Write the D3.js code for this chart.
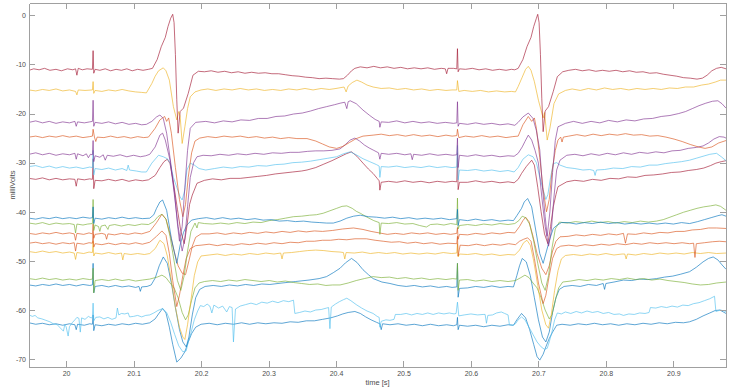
<!DOCTYPE html>
<html lang="en">
<head>
	<meta charset="UTF-8">
	<title>milliVolts</title>
	<script src="https://cdnjs.cloudflare.com/ajax/libs/d3/7.8.5/d3.min.js"></script>
	<style>
		*{
			padding: 0;
			margin: 0;
		}
		body{
			background-color: #fff;
		}
		.axis text{
			font-family: "Liberation Sans", Arial, sans-serif;
			font-size: 7px;
			fill: #4d4d4d;
		}
		.axis path,.axis line{
			stroke: #a0a0a0;
			stroke-width: 1;
			shape-rendering: crispEdges;
		}
		.label{
			font-family: "Liberation Sans", Arial, sans-serif;
			font-size: 7.5px;
			fill: #4d4d4d;
		}
		.trace{
			fill: none;
			stroke-width: 0.85;
			stroke-linejoin: round;
			stroke-opacity: 0.75;
		}
	</style>
</head>
<body>
	<div id="container"></div>
</body>
<script>
	// tick labels
	var xTicks=[20,20.1,20.2,20.3,20.4,20.5,20.6,20.7,20.8,20.9]
	var yTicks=[-70,-60,-50,-40,-30,-20,-10,0]
	var xRange=[19.945,20.978]
	var yRange=[-71.6,2.5]

	// channels, top to bottom: [time s, milliVolts]
	var ch01=[[19.945,-11.2],[19.952,-10.9],[19.960,-11.1],[19.968,-10.8],[19.976,-11.2],[19.985,-11.0],[19.993,-11.3],[20.002,-10.9],[20.010,-11.1],[20.014,-10.9],[20.016,-12.2],[20.018,-10.8],[20.024,-11.1],[20.031,-10.9],[20.039,-11.0],[20.040,-7.2],[20.041,-11.8],[20.043,-11.0],[20.050,-11.2],[20.058,-10.9],[20.066,-11.3],[20.074,-11.0],[20.082,-11.2],[20.090,-10.9],[20.098,-11.3],[20.106,-11.0],[20.114,-11.2],[20.122,-11.0],[20.128,-10.8],[20.135,-9.0],[20.141,-6.4],[20.147,-4.5],[20.151,-2.3],[20.155,-0.6],[20.158,0.2],[20.160,-1.5],[20.162,-8.0],[20.164,-17.2],[20.166,-24.0],[20.169,-19.6],[20.174,-18.9],[20.181,-15.9],[20.188,-12.2],[20.196,-11.4],[20.205,-11.5],[20.215,-11.3],[20.225,-11.6],[20.235,-11.4],[20.245,-11.7],[20.255,-11.5],[20.265,-11.8],[20.275,-11.6],[20.285,-11.8],[20.295,-11.7],[20.305,-11.9],[20.315,-11.9],[20.325,-12.1],[20.335,-12.3],[20.345,-12.4],[20.355,-12.6],[20.365,-12.7],[20.375,-12.9],[20.385,-12.8],[20.395,-12.9],[20.405,-13.0],[20.411,-12.9],[20.417,-12.2],[20.423,-11.3],[20.428,-10.8],[20.436,-10.5],[20.446,-10.7],[20.456,-10.4],[20.466,-10.7],[20.476,-10.5],[20.486,-10.8],[20.496,-10.6],[20.506,-10.9],[20.516,-10.7],[20.526,-10.9],[20.536,-10.7],[20.546,-11.0],[20.556,-10.8],[20.562,-10.9],[20.564,-11.9],[20.566,-10.8],[20.574,-10.8],[20.579,-10.9],[20.580,-6.8],[20.581,-11.5],[20.583,-10.9],[20.592,-11.0],[20.602,-10.8],[20.612,-11.1],[20.622,-10.9],[20.632,-11.2],[20.642,-11.0],[20.652,-11.2],[20.660,-11.0],[20.665,-11.1],[20.670,-10.8],[20.677,-9.0],[20.683,-6.4],[20.689,-4.5],[20.693,-2.3],[20.697,-0.6],[20.699,0.2],[20.701,-1.5],[20.703,-8.0],[20.705,-17.0],[20.707,-23.7],[20.710,-19.5],[20.715,-18.6],[20.722,-15.5],[20.728,-12.5],[20.736,-11.5],[20.745,-11.2],[20.755,-11.0],[20.765,-11.3],[20.775,-11.1],[20.785,-11.4],[20.795,-11.2],[20.805,-11.4],[20.815,-11.2],[20.825,-11.5],[20.835,-11.3],[20.845,-11.6],[20.855,-11.5],[20.865,-11.8],[20.875,-11.7],[20.885,-12.0],[20.895,-12.2],[20.905,-12.4],[20.915,-12.7],[20.925,-12.8],[20.935,-13.0],[20.943,-12.8],[20.950,-12.2],[20.957,-11.3],[20.964,-10.8],[20.971,-10.6],[20.978,-10.9]]

	var ch02=[[19.945,-15.2],[19.955,-15.4],[19.965,-15.1],[19.975,-15.3],[19.985,-15.0],[19.995,-15.4],[20.005,-15.2],[20.014,-15.5],[20.016,-16.2],[20.018,-15.2],[20.028,-15.3],[20.039,-15.2],[20.040,-13.5],[20.041,-15.9],[20.043,-15.3],[20.053,-15.5],[20.063,-15.2],[20.073,-15.4],[20.083,-15.1],[20.093,-15.4],[20.103,-15.6],[20.112,-15.7],[20.119,-15.8],[20.127,-13.9],[20.132,-12.4],[20.137,-11.3],[20.144,-10.7],[20.148,-11.3],[20.153,-13.2],[20.159,-18.6],[20.164,-21.3],[20.167,-19.6],[20.169,-20.5],[20.172,-26.1],[20.176,-22.7],[20.180,-19.0],[20.184,-16.6],[20.191,-15.6],[20.200,-15.2],[20.210,-15.0],[20.222,-15.3],[20.234,-15.0],[20.246,-15.2],[20.258,-14.9],[20.270,-15.2],[20.282,-15.0],[20.294,-15.3],[20.306,-15.1],[20.318,-15.3],[20.330,-15.0],[20.342,-15.2],[20.354,-14.9],[20.366,-15.2],[20.378,-14.9],[20.390,-15.1],[20.400,-14.9],[20.412,-14.6],[20.415,-15.6],[20.418,-14.4],[20.424,-13.7],[20.431,-13.2],[20.438,-13.6],[20.446,-14.2],[20.455,-14.6],[20.467,-14.9],[20.479,-14.8],[20.491,-15.1],[20.503,-14.9],[20.515,-15.2],[20.527,-15.0],[20.539,-15.3],[20.551,-15.1],[20.563,-15.3],[20.572,-15.2],[20.579,-15.2],[20.580,-13.3],[20.582,-15.5],[20.590,-15.3],[20.602,-15.5],[20.614,-15.3],[20.626,-15.6],[20.638,-15.4],[20.650,-15.6],[20.660,-15.5],[20.666,-15.6],[20.670,-14.5],[20.676,-12.6],[20.681,-11.0],[20.685,-10.4],[20.689,-11.2],[20.694,-13.5],[20.700,-17.3],[20.707,-20.9],[20.709,-19.8],[20.711,-22.5],[20.713,-25.4],[20.717,-23.0],[20.723,-18.0],[20.730,-16.0],[20.740,-15.3],[20.750,-15.0],[20.762,-15.3],[20.774,-14.9],[20.786,-15.2],[20.798,-14.8],[20.810,-15.1],[20.822,-14.9],[20.834,-15.2],[20.846,-14.9],[20.858,-15.1],[20.870,-14.9],[20.882,-15.1],[20.894,-14.8],[20.906,-14.9],[20.918,-14.6],[20.930,-14.6],[20.942,-14.2],[20.952,-14.0],[20.962,-13.6],[20.970,-13.2],[20.978,-13.2]]

	var ch03=[[19.945,-21.8],[19.955,-21.5],[19.965,-21.9],[19.975,-21.6],[19.985,-22.0],[19.995,-21.7],[20.005,-21.9],[20.013,-21.6],[20.015,-22.6],[20.017,-21.7],[20.027,-21.9],[20.035,-21.7],[20.039,-21.6],[20.040,-17.3],[20.041,-22.6],[20.043,-21.8],[20.053,-22.0],[20.063,-21.7],[20.073,-22.1],[20.083,-21.8],[20.093,-22.2],[20.103,-22.0],[20.112,-22.3],[20.119,-22.2],[20.127,-21.6],[20.134,-20.7],[20.139,-20.3],[20.144,-21.0],[20.149,-24.0],[20.155,-30.0],[20.161,-36.5],[20.165,-42.5],[20.168,-46.0],[20.172,-43.0],[20.176,-35.0],[20.180,-27.5],[20.184,-23.0],[20.192,-21.8],[20.207,-21.6],[20.220,-21.9],[20.233,-21.5],[20.246,-21.7],[20.259,-21.3],[20.272,-21.4],[20.285,-21.0],[20.298,-21.0],[20.311,-20.6],[20.324,-20.5],[20.337,-20.1],[20.350,-19.9],[20.362,-19.5],[20.374,-19.0],[20.386,-18.6],[20.398,-18.2],[20.406,-17.9],[20.413,-17.7],[20.416,-19.0],[20.418,-17.6],[20.421,-17.4],[20.430,-18.0],[20.440,-19.3],[20.450,-20.4],[20.458,-21.2],[20.464,-21.6],[20.465,-22.8],[20.467,-21.7],[20.478,-21.8],[20.490,-21.5],[20.502,-21.9],[20.514,-21.6],[20.526,-21.9],[20.538,-21.7],[20.550,-22.0],[20.562,-21.8],[20.574,-22.0],[20.579,-21.9],[20.580,-17.6],[20.581,-22.6],[20.583,-22.0],[20.595,-22.2],[20.607,-21.9],[20.619,-22.2],[20.631,-22.0],[20.643,-22.3],[20.655,-22.1],[20.665,-22.4],[20.670,-21.8],[20.677,-20.7],[20.685,-19.9],[20.692,-21.0],[20.697,-23.5],[20.702,-27.4],[20.706,-35.0],[20.710,-41.0],[20.713,-45.0],[20.717,-40.0],[20.721,-32.0],[20.725,-25.5],[20.729,-22.7],[20.740,-22.0],[20.752,-21.6],[20.765,-22.0],[20.778,-21.6],[20.791,-21.9],[20.804,-21.4],[20.817,-21.7],[20.830,-21.3],[20.843,-21.5],[20.856,-21.1],[20.869,-21.0],[20.882,-20.6],[20.895,-20.4],[20.908,-20.0],[20.918,-19.6],[20.928,-19.0],[20.938,-18.4],[20.948,-17.9],[20.958,-17.5],[20.966,-17.4],[20.972,-18.0],[20.978,-18.9]]

	var ch04=[[19.945,-24.8],[19.955,-24.6],[19.965,-24.9],[19.975,-24.6],[19.985,-24.8],[19.995,-24.5],[20.005,-24.8],[20.015,-24.6],[20.025,-24.9],[20.035,-24.7],[20.039,-24.6],[20.040,-23.2],[20.042,-24.8],[20.044,-25.7],[20.046,-24.8],[20.056,-24.9],[20.066,-24.6],[20.076,-24.9],[20.086,-24.7],[20.096,-25.0],[20.106,-24.7],[20.115,-24.9],[20.122,-24.8],[20.132,-23.0],[20.139,-21.3],[20.146,-20.6],[20.149,-21.6],[20.152,-20.9],[20.156,-24.0],[20.162,-31.0],[20.168,-37.5],[20.173,-41.0],[20.177,-38.5],[20.181,-33.0],[20.186,-28.0],[20.191,-25.6],[20.198,-25.0],[20.210,-24.7],[20.222,-24.9],[20.234,-24.6],[20.246,-24.8],[20.258,-24.6],[20.270,-24.9],[20.282,-24.7],[20.294,-25.0],[20.306,-24.8],[20.318,-25.1],[20.330,-24.9],[20.342,-25.1],[20.357,-25.1],[20.370,-25.6],[20.380,-26.2],[20.390,-26.8],[20.401,-27.1],[20.410,-26.7],[20.420,-25.9],[20.430,-25.1],[20.440,-24.6],[20.455,-24.4],[20.467,-24.2],[20.479,-24.5],[20.491,-24.3],[20.503,-24.6],[20.515,-24.3],[20.527,-24.6],[20.539,-24.4],[20.551,-24.7],[20.563,-24.4],[20.572,-24.6],[20.579,-24.5],[20.580,-23.2],[20.582,-24.9],[20.592,-24.6],[20.604,-24.8],[20.616,-24.5],[20.628,-24.8],[20.640,-24.6],[20.652,-24.9],[20.662,-24.7],[20.670,-24.6],[20.677,-22.3],[20.685,-20.6],[20.690,-21.6],[20.694,-20.9],[20.697,-23.0],[20.702,-29.0],[20.707,-35.5],[20.712,-40.0],[20.716,-37.5],[20.720,-32.0],[20.725,-27.5],[20.729,-25.4],[20.733,-24.8],[20.735,-25.8],[20.737,-24.8],[20.745,-24.6],[20.757,-24.3],[20.769,-24.6],[20.781,-24.2],[20.793,-24.5],[20.805,-24.2],[20.817,-24.4],[20.829,-24.1],[20.841,-24.4],[20.853,-24.3],[20.865,-24.6],[20.877,-24.5],[20.889,-24.8],[20.901,-25.2],[20.913,-25.7],[20.925,-26.3],[20.937,-26.8],[20.947,-27.1],[20.957,-26.8],[20.967,-26.0],[20.978,-25.5]]

	var ch05=[[19.945,-28.3],[19.955,-28.0],[19.965,-28.4],[19.975,-28.1],[19.985,-28.5],[19.995,-28.2],[20.005,-28.4],[20.013,-28.1],[20.015,-29.3],[20.017,-28.2],[20.025,-28.6],[20.030,-28.2],[20.033,-29.0],[20.036,-28.3],[20.039,-28.4],[20.040,-25.5],[20.041,-29.8],[20.043,-28.6],[20.050,-28.9],[20.055,-28.4],[20.058,-29.5],[20.061,-28.5],[20.070,-28.7],[20.080,-28.4],[20.090,-28.8],[20.100,-28.5],[20.110,-28.8],[20.118,-28.6],[20.124,-28.3],[20.132,-26.8],[20.139,-24.4],[20.143,-24.0],[20.147,-25.4],[20.154,-29.5],[20.160,-36.0],[20.166,-43.0],[20.172,-48.0],[20.176,-45.5],[20.180,-39.0],[20.184,-33.0],[20.189,-30.0],[20.194,-28.8],[20.203,-28.5],[20.215,-28.6],[20.228,-28.3],[20.241,-28.5],[20.254,-28.2],[20.267,-28.4],[20.280,-28.1],[20.293,-28.3],[20.306,-28.0],[20.319,-28.1],[20.332,-27.9],[20.345,-27.9],[20.358,-27.7],[20.370,-27.6],[20.382,-27.6],[20.394,-27.5],[20.406,-27.2],[20.414,-26.3],[20.421,-25.4],[20.428,-25.0],[20.435,-25.6],[20.442,-26.4],[20.449,-27.0],[20.456,-27.5],[20.463,-28.0],[20.465,-29.3],[20.467,-28.1],[20.478,-28.3],[20.490,-28.1],[20.502,-28.4],[20.511,-28.2],[20.513,-29.4],[20.515,-28.3],[20.527,-28.5],[20.539,-28.2],[20.551,-28.5],[20.563,-28.3],[20.573,-28.5],[20.579,-28.4],[20.580,-25.0],[20.581,-31.0],[20.583,-28.5],[20.595,-28.7],[20.607,-28.4],[20.619,-28.7],[20.631,-28.5],[20.643,-28.8],[20.655,-28.6],[20.664,-28.7],[20.670,-28.1],[20.676,-26.8],[20.680,-25.7],[20.685,-24.4],[20.690,-25.4],[20.695,-27.5],[20.700,-30.1],[20.705,-37.0],[20.710,-43.0],[20.715,-47.0],[20.719,-44.0],[20.723,-37.0],[20.727,-31.5],[20.732,-29.5],[20.742,-28.5],[20.754,-28.3],[20.766,-28.6],[20.778,-28.2],[20.790,-28.5],[20.802,-28.1],[20.814,-28.4],[20.826,-28.0],[20.838,-28.3],[20.850,-27.9],[20.862,-28.1],[20.874,-27.8],[20.886,-28.0],[20.898,-27.6],[20.910,-27.5],[20.922,-27.1],[20.934,-26.9],[20.944,-26.6],[20.952,-26.0],[20.960,-25.2],[20.968,-24.7],[20.975,-24.8],[20.978,-25.0]]

	var ch06=[[19.945,-30.8],[19.955,-30.6],[19.965,-31.0],[19.975,-30.7],[19.985,-31.1],[19.995,-30.8],[20.005,-31.1],[20.015,-30.9],[20.025,-31.2],[20.035,-30.9],[20.039,-31.0],[20.040,-27.5],[20.041,-32.5],[20.043,-31.2],[20.053,-31.4],[20.063,-31.1],[20.073,-31.5],[20.083,-31.2],[20.090,-31.6],[20.092,-30.5],[20.094,-31.5],[20.104,-31.7],[20.112,-31.9],[20.119,-31.9],[20.127,-30.1],[20.137,-28.5],[20.144,-28.8],[20.150,-29.2],[20.154,-30.0],[20.159,-33.0],[20.164,-35.0],[20.169,-37.0],[20.172,-37.6],[20.176,-35.5],[20.179,-31.5],[20.184,-30.1],[20.190,-30.5],[20.197,-31.2],[20.207,-31.5],[20.220,-31.2],[20.233,-30.9],[20.246,-31.1],[20.258,-30.8],[20.271,-30.9],[20.284,-30.6],[20.297,-30.7],[20.310,-30.4],[20.323,-30.3],[20.336,-30.0],[20.349,-29.9],[20.362,-29.7],[20.375,-29.4],[20.388,-29.1],[20.401,-28.8],[20.411,-28.2],[20.421,-27.8],[20.430,-28.4],[20.440,-29.2],[20.450,-29.8],[20.460,-30.4],[20.464,-30.7],[20.465,-33.0],[20.467,-30.8],[20.478,-30.9],[20.490,-30.7],[20.502,-31.0],[20.514,-30.8],[20.526,-31.0],[20.538,-30.7],[20.550,-31.0],[20.562,-30.8],[20.572,-31.0],[20.579,-30.9],[20.580,-26.5],[20.581,-33.5],[20.583,-31.5],[20.595,-31.6],[20.607,-31.4],[20.619,-31.7],[20.631,-31.5],[20.643,-31.8],[20.655,-31.6],[20.664,-31.9],[20.670,-31.0],[20.677,-29.3],[20.685,-28.4],[20.692,-28.8],[20.697,-30.0],[20.702,-33.0],[20.707,-35.5],[20.711,-37.5],[20.714,-36.5],[20.718,-33.0],[20.722,-30.2],[20.727,-30.0],[20.732,-30.5],[20.742,-31.0],[20.754,-31.2],[20.766,-31.5],[20.776,-31.4],[20.782,-31.6],[20.784,-32.6],[20.786,-31.5],[20.798,-31.4],[20.811,-31.1],[20.825,-31.2],[20.838,-30.8],[20.851,-30.9],[20.864,-30.5],[20.876,-30.5],[20.888,-30.2],[20.900,-30.0],[20.912,-29.8],[20.924,-29.5],[20.934,-29.1],[20.944,-28.7],[20.954,-28.3],[20.964,-28.1],[20.971,-28.8],[20.978,-29.6]]

	var ch07=[[19.945,-33.2],[19.955,-33.4],[19.965,-33.1],[19.975,-33.5],[19.985,-33.2],[19.995,-33.5],[20.005,-33.3],[20.013,-33.4],[20.015,-34.8],[20.017,-33.3],[20.027,-33.5],[20.035,-33.3],[20.039,-33.4],[20.040,-29.2],[20.041,-35.3],[20.043,-33.6],[20.053,-33.7],[20.063,-33.4],[20.073,-33.7],[20.083,-33.4],[20.093,-33.8],[20.103,-33.5],[20.113,-33.7],[20.122,-33.5],[20.132,-32.6],[20.139,-31.0],[20.145,-29.8],[20.150,-29.3],[20.154,-30.2],[20.159,-34.0],[20.165,-39.5],[20.170,-44.0],[20.175,-46.5],[20.179,-43.0],[20.183,-38.5],[20.187,-36.6],[20.194,-34.2],[20.205,-33.6],[20.217,-33.3],[20.230,-33.5],[20.243,-33.2],[20.258,-33.2],[20.271,-33.0],[20.284,-32.8],[20.297,-32.6],[20.310,-32.3],[20.323,-32.1],[20.336,-31.9],[20.349,-31.7],[20.357,-31.5],[20.370,-31.0],[20.382,-30.3],[20.394,-29.6],[20.406,-28.8],[20.415,-28.2],[20.423,-27.8],[20.431,-28.7],[20.440,-30.1],[20.448,-31.3],[20.455,-32.2],[20.461,-33.2],[20.464,-33.7],[20.465,-35.6],[20.467,-34.0],[20.478,-33.8],[20.490,-34.0],[20.502,-33.7],[20.514,-34.0],[20.526,-33.8],[20.538,-34.1],[20.550,-33.8],[20.562,-34.0],[20.572,-33.8],[20.579,-33.9],[20.580,-28.0],[20.581,-35.5],[20.583,-34.0],[20.595,-34.0],[20.607,-33.7],[20.619,-34.0],[20.631,-33.8],[20.643,-34.1],[20.655,-33.9],[20.664,-34.1],[20.670,-33.4],[20.675,-32.2],[20.682,-30.8],[20.690,-29.5],[20.694,-30.5],[20.699,-35.0],[20.704,-40.0],[20.709,-44.5],[20.714,-46.5],[20.718,-43.0],[20.722,-39.0],[20.726,-36.5],[20.729,-34.9],[20.742,-33.9],[20.754,-33.6],[20.767,-33.8],[20.780,-33.4],[20.793,-33.6],[20.806,-33.2],[20.819,-33.3],[20.832,-32.9],[20.845,-33.0],[20.858,-32.6],[20.871,-32.5],[20.884,-32.3],[20.897,-32.0],[20.910,-31.9],[20.922,-31.6],[20.934,-31.4],[20.945,-31.1],[20.955,-30.6],[20.963,-30.1],[20.971,-29.8],[20.978,-29.6]]

	var ch08=[[19.945,-41.3],[19.955,-41.5],[19.965,-41.2],[19.975,-41.4],[19.985,-41.1],[19.995,-41.4],[20.005,-41.2],[20.015,-41.4],[20.025,-41.1],[20.035,-41.3],[20.039,-41.2],[20.040,-39.0],[20.041,-42.4],[20.043,-41.3],[20.053,-41.5],[20.063,-41.2],[20.073,-41.4],[20.083,-41.1],[20.093,-41.4],[20.103,-41.2],[20.113,-41.4],[20.124,-41.3],[20.130,-40.6],[20.134,-39.3],[20.139,-38.0],[20.143,-37.6],[20.149,-39.7],[20.156,-45.4],[20.164,-50.5],[20.169,-46.8],[20.174,-44.2],[20.179,-42.7],[20.186,-41.7],[20.196,-41.4],[20.208,-41.2],[20.220,-41.5],[20.232,-41.2],[20.244,-41.5],[20.256,-41.3],[20.268,-41.6],[20.280,-41.4],[20.292,-41.7],[20.304,-41.6],[20.316,-41.9],[20.328,-41.8],[20.340,-42.0],[20.352,-41.9],[20.364,-42.1],[20.376,-42.2],[20.386,-42.3],[20.396,-42.3],[20.406,-41.9],[20.416,-41.3],[20.426,-40.9],[20.436,-40.7],[20.448,-41.0],[20.460,-41.1],[20.472,-41.3],[20.484,-41.1],[20.496,-41.4],[20.508,-41.2],[20.520,-41.5],[20.532,-41.3],[20.544,-41.5],[20.556,-41.3],[20.568,-41.6],[20.579,-41.4],[20.580,-39.5],[20.581,-42.8],[20.583,-41.6],[20.595,-41.8],[20.607,-41.5],[20.619,-41.8],[20.631,-41.6],[20.643,-41.9],[20.655,-41.7],[20.663,-41.8],[20.668,-40.8],[20.675,-39.3],[20.679,-38.0],[20.684,-37.3],[20.690,-39.0],[20.697,-44.5],[20.702,-48.5],[20.707,-50.5],[20.712,-48.0],[20.717,-45.5],[20.722,-43.4],[20.727,-42.8],[20.734,-42.2],[20.744,-42.2],[20.756,-42.5],[20.768,-42.2],[20.780,-42.4],[20.792,-42.1],[20.804,-42.4],[20.816,-42.2],[20.828,-42.5],[20.840,-42.3],[20.852,-42.5],[20.864,-42.3],[20.876,-42.5],[20.888,-42.3],[20.900,-42.5],[20.912,-42.2],[20.924,-42.4],[20.936,-42.0],[20.946,-41.6],[20.956,-41.2],[20.966,-40.8],[20.972,-40.6],[20.978,-40.9]]

	var ch09=[[19.945,-42.3],[19.955,-42.5],[19.965,-42.2],[19.975,-42.6],[19.985,-42.3],[19.995,-42.5],[20.005,-42.4],[20.012,-42.6],[20.014,-44.3],[20.016,-42.5],[20.025,-42.7],[20.032,-42.5],[20.039,-42.4],[20.040,-37.5],[20.041,-43.8],[20.043,-42.7],[20.048,-43.0],[20.050,-44.0],[20.052,-42.9],[20.058,-42.7],[20.062,-43.6],[20.064,-42.8],[20.072,-42.6],[20.082,-42.9],[20.092,-42.6],[20.102,-42.8],[20.112,-42.5],[20.122,-42.6],[20.130,-42.0],[20.136,-41.0],[20.142,-40.5],[20.148,-41.5],[20.154,-45.0],[20.160,-50.0],[20.165,-54.0],[20.170,-56.0],[20.175,-53.0],[20.180,-48.0],[20.185,-44.0],[20.191,-42.3],[20.194,-43.3],[20.196,-42.2],[20.205,-42.4],[20.217,-42.5],[20.229,-42.3],[20.241,-42.5],[20.253,-42.2],[20.265,-42.4],[20.277,-42.1],[20.289,-42.2],[20.301,-41.8],[20.313,-41.6],[20.325,-41.3],[20.337,-41.0],[20.349,-40.9],[20.361,-40.7],[20.371,-40.6],[20.381,-40.3],[20.391,-39.8],[20.401,-39.3],[20.409,-38.9],[20.416,-38.8],[20.424,-39.3],[20.430,-39.9],[20.436,-40.3],[20.446,-41.1],[20.456,-41.8],[20.464,-42.2],[20.465,-44.6],[20.467,-42.3],[20.478,-42.4],[20.490,-42.2],[20.502,-42.5],[20.514,-42.4],[20.524,-42.8],[20.534,-43.1],[20.540,-42.6],[20.550,-42.5],[20.560,-42.7],[20.570,-42.4],[20.579,-42.6],[20.580,-37.2],[20.581,-43.5],[20.583,-42.8],[20.595,-42.6],[20.607,-42.8],[20.619,-42.5],[20.631,-42.7],[20.643,-42.4],[20.655,-42.6],[20.665,-42.4],[20.671,-41.8],[20.676,-40.9],[20.681,-41.2],[20.687,-42.5],[20.693,-46.0],[20.699,-50.5],[20.705,-54.5],[20.710,-56.0],[20.715,-53.0],[20.720,-47.5],[20.725,-43.5],[20.731,-42.1],[20.743,-42.3],[20.755,-42.0],[20.767,-42.2],[20.779,-41.9],[20.791,-42.2],[20.803,-42.0],[20.815,-42.3],[20.827,-42.0],[20.839,-42.2],[20.851,-41.9],[20.863,-42.1],[20.875,-41.9],[20.885,-41.6],[20.895,-41.1],[20.905,-40.6],[20.915,-40.1],[20.925,-39.7],[20.935,-39.3],[20.945,-39.0],[20.955,-38.8],[20.963,-38.6],[20.970,-38.9],[20.978,-39.7]]

	var ch10=[[19.945,-44.4],[19.955,-44.6],[19.965,-44.3],[19.975,-44.5],[19.985,-44.2],[19.995,-44.5],[20.005,-44.3],[20.012,-44.5],[20.014,-45.8],[20.016,-44.4],[20.026,-44.6],[20.034,-44.3],[20.039,-44.5],[20.040,-42.5],[20.041,-45.4],[20.043,-44.6],[20.053,-44.4],[20.058,-44.6],[20.060,-45.6],[20.062,-44.5],[20.072,-44.7],[20.082,-44.4],[20.092,-44.6],[20.102,-44.3],[20.112,-44.5],[20.124,-44.0],[20.134,-42.2],[20.142,-40.5],[20.148,-41.5],[20.154,-44.5],[20.160,-48.0],[20.166,-51.0],[20.172,-52.5],[20.177,-52.8],[20.182,-50.0],[20.187,-47.0],[20.192,-45.2],[20.200,-44.5],[20.212,-44.5],[20.224,-44.3],[20.236,-44.6],[20.248,-44.3],[20.260,-44.5],[20.272,-44.2],[20.284,-44.4],[20.296,-44.1],[20.308,-44.3],[20.320,-44.0],[20.332,-44.2],[20.344,-43.9],[20.356,-44.1],[20.368,-43.9],[20.380,-44.0],[20.395,-43.8],[20.410,-43.5],[20.426,-43.3],[20.440,-43.6],[20.452,-44.0],[20.464,-44.3],[20.476,-44.6],[20.488,-44.4],[20.500,-44.6],[20.512,-44.3],[20.524,-44.5],[20.536,-44.3],[20.548,-44.6],[20.560,-44.4],[20.570,-44.6],[20.579,-44.4],[20.580,-43.2],[20.581,-45.6],[20.583,-44.6],[20.595,-44.7],[20.607,-44.4],[20.619,-44.6],[20.631,-44.3],[20.643,-44.5],[20.655,-44.2],[20.665,-44.3],[20.672,-43.0],[20.677,-41.8],[20.681,-41.1],[20.686,-42.0],[20.692,-45.0],[20.698,-48.5],[20.705,-51.5],[20.711,-52.8],[20.716,-51.0],[20.721,-48.0],[20.726,-46.0],[20.732,-45.1],[20.744,-45.0],[20.756,-44.7],[20.768,-44.9],[20.780,-44.6],[20.792,-44.8],[20.804,-44.5],[20.816,-44.7],[20.826,-44.4],[20.829,-46.4],[20.832,-44.5],[20.844,-44.6],[20.856,-44.3],[20.868,-44.5],[20.880,-44.2],[20.892,-44.3],[20.904,-44.0],[20.916,-44.0],[20.928,-43.7],[20.940,-43.6],[20.952,-43.3],[20.964,-43.3],[20.978,-43.4]]

	var ch11=[[19.945,-46.4],[19.955,-46.2],[19.965,-46.5],[19.975,-46.3],[19.985,-46.6],[19.995,-46.3],[20.005,-46.5],[20.012,-46.3],[20.014,-48.0],[20.016,-46.4],[20.026,-46.6],[20.034,-46.3],[20.039,-46.4],[20.040,-44.5],[20.041,-47.2],[20.043,-46.5],[20.053,-46.7],[20.063,-46.4],[20.073,-46.7],[20.083,-46.4],[20.093,-46.6],[20.103,-46.3],[20.113,-46.6],[20.124,-46.2],[20.134,-45.0],[20.142,-43.9],[20.148,-44.8],[20.153,-48.5],[20.158,-54.0],[20.164,-59.3],[20.168,-57.0],[20.173,-53.0],[20.178,-49.5],[20.184,-47.5],[20.192,-46.9],[20.200,-46.8],[20.212,-46.6],[20.224,-46.9],[20.236,-46.6],[20.248,-46.8],[20.260,-46.5],[20.272,-46.7],[20.284,-46.4],[20.296,-46.6],[20.308,-46.3],[20.320,-46.5],[20.332,-46.2],[20.344,-46.3],[20.356,-46.0],[20.368,-46.0],[20.380,-45.8],[20.392,-45.8],[20.404,-45.6],[20.416,-45.7],[20.428,-45.5],[20.445,-45.5],[20.458,-45.8],[20.470,-46.0],[20.482,-46.2],[20.494,-46.1],[20.506,-46.4],[20.518,-46.2],[20.530,-46.5],[20.542,-46.3],[20.554,-46.6],[20.566,-46.4],[20.579,-46.5],[20.580,-45.0],[20.581,-49.0],[20.584,-46.8],[20.596,-46.9],[20.608,-46.6],[20.620,-46.9],[20.632,-46.6],[20.644,-46.8],[20.656,-46.5],[20.666,-46.7],[20.672,-46.0],[20.678,-45.6],[20.684,-45.3],[20.689,-46.0],[20.694,-49.5],[20.700,-54.5],[20.707,-58.7],[20.711,-57.0],[20.716,-53.0],[20.721,-49.5],[20.727,-47.5],[20.733,-47.0],[20.745,-46.8],[20.757,-47.0],[20.769,-46.7],[20.781,-46.9],[20.793,-46.6],[20.805,-46.8],[20.817,-46.5],[20.829,-46.7],[20.841,-46.4],[20.853,-46.6],[20.865,-46.3],[20.877,-46.5],[20.889,-46.3],[20.901,-46.5],[20.913,-46.3],[20.924,-46.5],[20.930,-46.4],[20.932,-49.3],[20.934,-46.5],[20.946,-46.3],[20.958,-46.1],[20.968,-46.0],[20.978,-46.1]]

	var ch12=[[19.945,-48.1],[19.955,-48.3],[19.965,-48.0],[19.975,-48.3],[19.985,-48.1],[19.995,-48.4],[20.005,-48.2],[20.012,-48.4],[20.014,-49.7],[20.016,-48.3],[20.026,-48.5],[20.034,-48.2],[20.039,-48.3],[20.040,-46.0],[20.041,-49.0],[20.043,-48.4],[20.053,-48.6],[20.063,-48.3],[20.073,-48.6],[20.082,-48.4],[20.084,-49.8],[20.086,-48.5],[20.096,-48.7],[20.106,-48.5],[20.116,-48.7],[20.124,-48.5],[20.132,-47.5],[20.139,-45.8],[20.145,-46.5],[20.150,-49.0],[20.156,-54.0],[20.162,-59.5],[20.168,-63.5],[20.173,-65.5],[20.176,-66.0],[20.180,-63.0],[20.185,-58.0],[20.190,-53.0],[20.195,-50.2],[20.200,-49.0],[20.212,-48.8],[20.224,-48.6],[20.236,-48.9],[20.248,-48.6],[20.260,-48.8],[20.272,-48.5],[20.284,-48.7],[20.296,-48.4],[20.308,-48.6],[20.318,-48.4],[20.320,-49.6],[20.322,-48.4],[20.334,-48.3],[20.346,-48.1],[20.358,-47.9],[20.370,-47.8],[20.382,-47.9],[20.394,-48.1],[20.406,-48.2],[20.411,-48.3],[20.413,-49.6],[20.415,-48.3],[20.427,-48.4],[20.439,-48.2],[20.451,-48.5],[20.463,-48.3],[20.475,-48.5],[20.487,-48.3],[20.499,-48.6],[20.511,-48.4],[20.523,-48.6],[20.535,-48.4],[20.547,-48.6],[20.559,-48.3],[20.571,-48.5],[20.579,-48.4],[20.580,-46.5],[20.581,-49.2],[20.583,-48.6],[20.595,-48.7],[20.607,-48.5],[20.619,-48.8],[20.631,-48.6],[20.643,-48.9],[20.655,-48.7],[20.665,-48.8],[20.672,-47.8],[20.678,-46.3],[20.683,-45.8],[20.688,-46.8],[20.693,-50.0],[20.699,-55.0],[20.705,-60.0],[20.711,-63.0],[20.715,-63.7],[20.719,-61.0],[20.724,-56.0],[20.729,-52.0],[20.734,-49.6],[20.740,-48.9],[20.752,-48.7],[20.764,-48.9],[20.776,-48.6],[20.788,-48.8],[20.800,-48.5],[20.812,-48.8],[20.824,-48.6],[20.828,-48.6],[20.830,-49.6],[20.832,-48.6],[20.844,-48.8],[20.856,-48.5],[20.868,-48.7],[20.880,-48.4],[20.892,-48.6],[20.904,-48.4],[20.916,-48.6],[20.928,-48.3],[20.940,-48.5],[20.952,-48.3],[20.964,-48.5],[20.978,-48.4]]

	var ch13=[[19.945,-53.6],[19.955,-53.8],[19.965,-53.5],[19.975,-53.8],[19.985,-53.6],[19.995,-53.9],[20.005,-53.7],[20.015,-53.9],[20.025,-53.6],[20.035,-53.8],[20.039,-53.7],[20.040,-51.5],[20.041,-56.5],[20.043,-54.0],[20.053,-53.8],[20.063,-54.0],[20.073,-53.7],[20.083,-54.0],[20.093,-53.8],[20.103,-54.1],[20.113,-53.9],[20.124,-53.7],[20.135,-53.3],[20.142,-52.9],[20.148,-53.4],[20.154,-54.5],[20.160,-55.5],[20.166,-57.5],[20.172,-60.5],[20.177,-62.0],[20.181,-61.0],[20.186,-58.0],[20.191,-55.5],[20.197,-54.5],[20.205,-54.2],[20.217,-54.0],[20.229,-54.2],[20.241,-53.9],[20.253,-54.1],[20.265,-53.8],[20.277,-54.0],[20.289,-54.2],[20.301,-54.0],[20.313,-54.3],[20.325,-54.1],[20.337,-54.4],[20.349,-54.6],[20.361,-54.8],[20.373,-54.7],[20.385,-55.0],[20.395,-54.9],[20.406,-54.9],[20.418,-54.5],[20.430,-54.0],[20.442,-53.6],[20.455,-53.2],[20.467,-53.4],[20.479,-53.3],[20.491,-53.6],[20.503,-53.4],[20.515,-53.7],[20.527,-53.5],[20.539,-53.8],[20.551,-53.6],[20.563,-53.8],[20.573,-53.6],[20.579,-53.7],[20.580,-50.5],[20.581,-56.0],[20.583,-53.9],[20.595,-53.8],[20.607,-54.1],[20.619,-53.9],[20.631,-54.2],[20.643,-54.0],[20.655,-54.2],[20.666,-54.0],[20.674,-53.4],[20.680,-52.9],[20.686,-53.4],[20.692,-54.5],[20.698,-55.5],[20.704,-57.5],[20.710,-60.0],[20.716,-61.8],[20.720,-61.0],[20.725,-58.0],[20.730,-55.5],[20.736,-54.3],[20.748,-54.1],[20.760,-53.8],[20.772,-54.0],[20.784,-53.7],[20.796,-53.9],[20.808,-53.6],[20.820,-53.8],[20.832,-53.5],[20.844,-53.8],[20.856,-53.6],[20.868,-53.9],[20.880,-53.7],[20.892,-54.0],[20.904,-54.2],[20.916,-54.4],[20.928,-54.7],[20.940,-54.9],[20.952,-54.8],[20.964,-54.5],[20.978,-54.3]]

	var ch14=[[19.945,-54.9],[19.955,-55.1],[19.965,-54.8],[19.975,-55.0],[19.985,-54.7],[19.995,-55.0],[20.005,-54.8],[20.015,-55.1],[20.025,-54.8],[20.035,-55.0],[20.039,-54.9],[20.040,-50.5],[20.041,-56.5],[20.043,-55.2],[20.053,-55.0],[20.063,-55.3],[20.073,-55.0],[20.083,-55.3],[20.093,-55.1],[20.103,-55.4],[20.108,-55.2],[20.110,-56.2],[20.112,-55.3],[20.120,-55.2],[20.126,-54.9],[20.132,-53.5],[20.138,-51.0],[20.144,-49.2],[20.150,-50.5],[20.156,-54.5],[20.162,-59.5],[20.168,-64.0],[20.173,-66.5],[20.178,-67.5],[20.182,-65.5],[20.187,-61.0],[20.192,-57.5],[20.198,-55.8],[20.206,-55.2],[20.218,-55.0],[20.230,-55.2],[20.242,-54.9],[20.254,-55.1],[20.266,-54.8],[20.278,-55.0],[20.290,-54.7],[20.302,-54.8],[20.320,-54.5],[20.340,-54.2],[20.360,-53.9],[20.375,-53.6],[20.386,-53.2],[20.396,-52.4],[20.406,-51.5],[20.414,-50.4],[20.423,-49.5],[20.431,-50.3],[20.440,-51.8],[20.448,-52.8],[20.455,-53.6],[20.468,-54.3],[20.480,-54.6],[20.492,-55.0],[20.504,-55.2],[20.516,-55.0],[20.528,-55.3],[20.540,-55.1],[20.552,-55.4],[20.564,-55.2],[20.572,-55.4],[20.579,-55.3],[20.580,-50.5],[20.581,-57.4],[20.583,-55.6],[20.595,-55.5],[20.607,-55.2],[20.619,-55.4],[20.631,-55.1],[20.643,-55.4],[20.655,-55.2],[20.663,-55.3],[20.668,-53.0],[20.672,-51.0],[20.676,-49.5],[20.682,-50.2],[20.688,-53.0],[20.694,-57.5],[20.700,-62.0],[20.706,-65.5],[20.711,-66.5],[20.716,-64.5],[20.721,-60.5],[20.726,-57.5],[20.731,-55.8],[20.738,-55.2],[20.750,-55.0],[20.762,-55.2],[20.774,-54.8],[20.786,-55.0],[20.796,-54.6],[20.798,-55.8],[20.800,-54.6],[20.812,-54.3],[20.826,-53.9],[20.838,-54.0],[20.850,-53.7],[20.862,-53.8],[20.875,-53.6],[20.887,-53.3],[20.899,-53.1],[20.911,-52.7],[20.924,-52.2],[20.934,-51.3],[20.944,-50.2],[20.952,-49.5],[20.959,-49.2],[20.966,-49.8],[20.972,-50.8],[20.978,-51.7]]

	var ch15=[[19.945,-61.0],[19.950,-61.3],[19.954,-61.1],[19.958,-61.6],[19.964,-61.8],[19.970,-62.1],[19.976,-62.4],[19.981,-62.8],[19.987,-63.0],[19.991,-63.6],[19.996,-64.3],[19.998,-63.0],[20.000,-63.4],[20.003,-65.3],[20.005,-63.4],[20.009,-62.6],[20.013,-62.0],[20.016,-61.5],[20.019,-61.7],[20.021,-64.5],[20.023,-61.6],[20.028,-61.9],[20.033,-61.3],[20.037,-61.6],[20.039,-61.5],[20.040,-58.6],[20.041,-62.2],[20.044,-61.5],[20.050,-61.4],[20.056,-61.8],[20.062,-61.5],[20.068,-61.9],[20.074,-61.6],[20.076,-59.6],[20.078,-61.0],[20.082,-60.7],[20.087,-60.8],[20.092,-60.6],[20.094,-61.4],[20.100,-61.3],[20.106,-61.1],[20.112,-61.4],[20.118,-61.1],[20.124,-61.0],[20.130,-60.6],[20.136,-60.1],[20.143,-59.7],[20.149,-60.5],[20.155,-62.5],[20.161,-65.0],[20.167,-67.3],[20.173,-68.5],[20.178,-68.3],[20.181,-66.5],[20.185,-64.7],[20.190,-62.0],[20.195,-60.2],[20.199,-59.1],[20.204,-59.3],[20.209,-58.8],[20.213,-59.2],[20.216,-60.6],[20.219,-59.0],[20.226,-59.6],[20.232,-59.2],[20.238,-60.4],[20.242,-59.3],[20.246,-59.5],[20.248,-66.5],[20.251,-59.8],[20.258,-59.2],[20.266,-58.9],[20.274,-58.6],[20.282,-58.9],[20.290,-58.4],[20.298,-58.6],[20.306,-58.2],[20.314,-58.5],[20.322,-58.1],[20.330,-58.3],[20.337,-58.0],[20.339,-60.7],[20.346,-60.5],[20.354,-60.2],[20.362,-60.4],[20.370,-60.0],[20.378,-59.9],[20.386,-59.6],[20.389,-59.5],[20.391,-63.8],[20.393,-59.4],[20.399,-58.8],[20.405,-58.3],[20.411,-57.9],[20.416,-57.6],[20.422,-58.1],[20.430,-58.9],[20.438,-59.6],[20.446,-60.2],[20.455,-60.7],[20.461,-61.3],[20.464,-61.5],[20.465,-63.5],[20.467,-62.3],[20.474,-62.0],[20.480,-62.1],[20.486,-61.9],[20.488,-60.9],[20.496,-60.9],[20.504,-60.7],[20.512,-61.0],[20.520,-60.7],[20.528,-60.9],[20.536,-60.6],[20.544,-60.9],[20.552,-60.6],[20.560,-60.8],[20.568,-60.6],[20.575,-60.8],[20.578,-60.7],[20.580,-58.4],[20.582,-61.2],[20.590,-61.0],[20.600,-60.8],[20.610,-61.0],[20.618,-60.9],[20.621,-60.9],[20.623,-62.7],[20.625,-61.1],[20.632,-61.0],[20.638,-60.6],[20.645,-60.4],[20.650,-60.7],[20.655,-61.0],[20.657,-63.0],[20.662,-63.1],[20.666,-62.8],[20.670,-62.0],[20.675,-61.4],[20.680,-62.0],[20.686,-63.5],[20.692,-65.0],[20.698,-66.5],[20.704,-67.5],[20.709,-68.0],[20.713,-67.8],[20.716,-66.5],[20.720,-64.5],[20.724,-62.0],[20.728,-60.6],[20.734,-60.8],[20.740,-60.4],[20.748,-60.7],[20.756,-60.3],[20.764,-60.6],[20.772,-60.2],[20.780,-60.5],[20.788,-60.3],[20.796,-60.7],[20.804,-60.5],[20.812,-60.9],[20.820,-60.8],[20.826,-61.1],[20.834,-60.8],[20.842,-60.9],[20.850,-60.6],[20.858,-60.7],[20.864,-60.5],[20.866,-59.5],[20.874,-59.6],[20.882,-59.3],[20.890,-59.5],[20.898,-59.2],[20.906,-59.4],[20.914,-59.0],[20.922,-59.1],[20.930,-58.7],[20.938,-58.5],[20.946,-58.1],[20.954,-57.7],[20.961,-57.2],[20.963,-60.3],[20.970,-60.0],[20.978,-60.3]]

	var ch16=[[19.945,-62.6],[19.955,-62.9],[19.965,-62.7],[19.975,-63.0],[19.985,-62.8],[19.995,-63.1],[20.005,-62.8],[20.013,-63.0],[20.015,-64.0],[20.017,-62.9],[20.027,-63.1],[20.035,-62.8],[20.039,-62.9],[20.040,-61.0],[20.041,-64.2],[20.043,-63.0],[20.053,-63.2],[20.063,-62.9],[20.073,-63.1],[20.083,-62.8],[20.093,-63.0],[20.103,-62.7],[20.113,-62.9],[20.124,-62.6],[20.132,-61.8],[20.137,-60.8],[20.143,-59.7],[20.148,-60.6],[20.153,-63.5],[20.158,-67.0],[20.164,-70.6],[20.170,-69.8],[20.176,-68.5],[20.181,-66.5],[20.186,-64.8],[20.192,-63.5],[20.200,-62.9],[20.212,-62.7],[20.224,-63.0],[20.236,-62.7],[20.248,-62.9],[20.260,-62.6],[20.272,-62.9],[20.284,-62.6],[20.296,-62.8],[20.308,-62.6],[20.320,-62.7],[20.332,-62.4],[20.344,-62.5],[20.356,-62.2],[20.368,-62.2],[20.380,-61.9],[20.392,-61.6],[20.402,-61.2],[20.410,-60.8],[20.418,-60.5],[20.428,-60.3],[20.436,-60.7],[20.444,-61.4],[20.452,-62.0],[20.460,-62.5],[20.465,-62.8],[20.467,-64.0],[20.469,-62.8],[20.480,-63.0],[20.492,-62.8],[20.504,-63.1],[20.516,-62.9],[20.528,-63.2],[20.540,-62.9],[20.552,-63.2],[20.564,-63.0],[20.574,-63.2],[20.579,-63.0],[20.580,-61.5],[20.581,-64.0],[20.583,-63.1],[20.595,-63.3],[20.607,-63.1],[20.619,-63.4],[20.631,-63.1],[20.643,-63.3],[20.655,-63.0],[20.663,-63.1],[20.668,-62.0],[20.675,-60.7],[20.681,-61.6],[20.687,-64.0],[20.693,-67.0],[20.698,-69.5],[20.702,-70.2],[20.707,-69.0],[20.711,-67.5],[20.716,-65.8],[20.721,-64.5],[20.727,-63.1],[20.735,-62.9],[20.747,-63.1],[20.759,-62.8],[20.771,-63.0],[20.783,-62.7],[20.795,-63.0],[20.807,-62.8],[20.819,-63.1],[20.831,-62.8],[20.843,-63.0],[20.855,-62.7],[20.867,-62.9],[20.879,-62.6],[20.891,-62.8],[20.903,-62.5],[20.915,-62.6],[20.924,-62.4],[20.934,-61.9],[20.944,-61.2],[20.954,-60.6],[20.962,-60.1],[20.969,-60.0],[20.974,-60.4],[20.978,-60.7]]

	var channels=[ch01,ch02,ch03,ch04,ch05,ch06,ch07,ch08,ch09,ch10,ch11,ch12,ch13,ch14,ch15,ch16]
	var lineColors=['#A2142F','#EDB120','#7E2F8E','#D95319','#7E2F8E','#4DBEEE','#A2142F','#0072BD','#77AC30','#D95319','#D95319','#EDB120','#77AC30','#0072BD','#4DBEEE','#0072BD']

	var width=736,
	height=391,
	margin={left:29,top:3,right:10,bottom:24},
	g_width=width-margin.left-margin.right,
	g_height=height-margin.top-margin.bottom

	var svg=d3.select('#container')
	.append('svg')
	.attr('width',width)
	.attr('height',height)

	var g=svg.append('g')
	.attr('transform','translate('+margin.left+','+margin.top+')')

	var scale_x=d3.scaleLinear()
	.domain(xRange)
	.range([0,g_width])
	var scale_y=d3.scaleLinear()
	.domain(yRange)
	.range([g_height,0])

	svg.append('defs')
	.append('clipPath')
	.attr('id','plotclip')
	.append('rect')
	.attr('width',g_width)
	.attr('height',g_height)

	var line_generator=d3.line()
	.x(function(d){return scale_x(d[0])})
	.y(function(d){return scale_y(d[1])})

	// last channel first so the top ones sit on top
	var order=d3.range(channels.length).reverse()
	g.append('g')
	.attr('clip-path','url(#plotclip)')
	.selectAll('path')
	.data(order)
	.enter()
	.append('path')
	.attr('class','trace')
	.attr('stroke',function(i){return lineColors[i]})
	.attr('d',function(i){return line_generator(channels[i])})

	// box with inward ticks on all four sides
	g.append('g')
	.attr('class','axis')
	.attr('transform','translate(0,'+g_height+')')
	.call(d3.axisBottom(scale_x).tickValues(xTicks).tickFormat(function(d){return d}).tickSizeInner(-6).tickSizeOuter(0).tickPadding(4))

	g.append('g')
	.attr('class','axis')
	.call(d3.axisTop(scale_x).tickValues(xTicks).tickFormat(function(){return ''}).tickSizeInner(-6).tickSizeOuter(0))

	g.append('g')
	.attr('class','axis')
	.call(d3.axisLeft(scale_y).tickValues(yTicks).tickFormat(function(d){return d}).tickSizeInner(-6).tickSizeOuter(0).tickPadding(3))

	g.append('g')
	.attr('class','axis')
	.attr('transform','translate('+g_width+',0)')
	.call(d3.axisRight(scale_y).tickValues(yTicks).tickFormat(function(){return ''}).tickSizeInner(-6).tickSizeOuter(0))

	g.append('text')
	.attr('class','label')
	.attr('x',g_width/2)
	.attr('y',g_height+18)
	.attr('text-anchor','middle')
	.text('time [s]')

	g.append('text')
	.attr('class','label')
	.attr('transform','rotate(-90)')
	.attr('x',-g_height/2)
	.attr('y',-14)
	.attr('text-anchor','middle')
	.text('milliVolts')
</script>
</html>
